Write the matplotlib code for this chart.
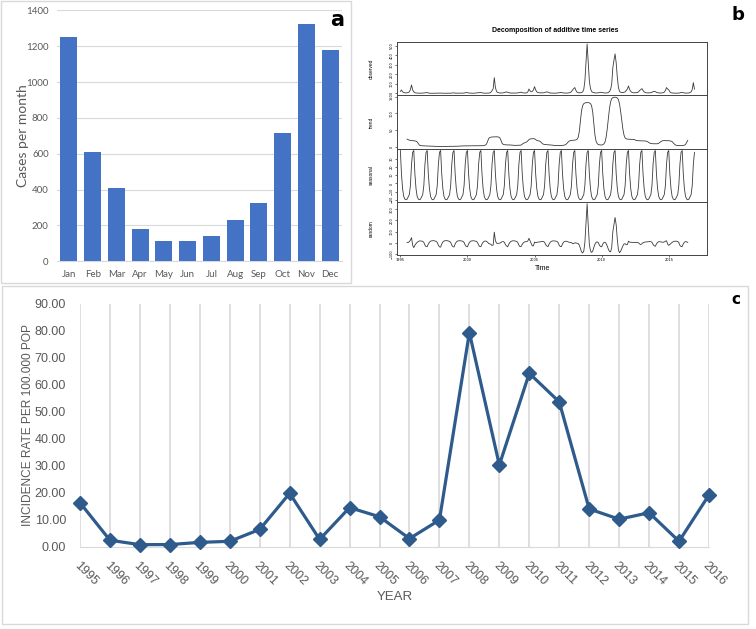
import numpy as np
import matplotlib
matplotlib.use("Agg")
import matplotlib.pyplot as plt
from matplotlib.patches import Rectangle

# ---- panel a: cases per calendar month ----
months = ['Jan', 'Feb', 'Mar', 'Apr', 'May', 'Jun',
          'Jul', 'Aug', 'Sep', 'Oct', 'Nov', 'Dec']
cases_per_month = [1253, 608, 411, 182, 115, 112, 139, 229, 323, 714, 1322, 1181]

# ---- panel c: yearly incidence ----
years = list(range(1995, 2017))
incidence = [16.3, 2.4, 0.75, 0.8, 1.6, 2.0, 6.4, 19.8, 2.7, 14.5, 11.1,
             3.0, 9.9, 79.4, 30.3, 64.3, 53.7, 14.0, 10.2, 12.6, 2.0, 19.2]

# ---- panel b: monthly observed cases, Jan..Dec per row ----
start_year = 1995
observed_monthly = [
    20, 35, 15, 8, 5, 4, 5, 8, 15, 40, 88, 35,         # 1995
    15, 6, 3, 2, 1, 1, 1, 1, 2, 3, 5, 6,               # 1996
    8, 3, 1, 0, 0, 0, 0, 0, 0, 1, 2, 2,                # 1997
    2, 1, 1, 0, 0, 0, 0, 0, 0, 1, 3, 4,                # 1998
    4, 2, 1, 1, 0, 0, 1, 1, 1, 2, 6, 8,                # 1999
    7, 3, 2, 1, 1, 0, 1, 1, 2, 3, 6, 8,                # 2000
    8, 4, 2, 1, 1, 1, 1, 2, 4, 12, 28, 48,             # 2001
    165, 60, 20, 8, 5, 3, 3, 3, 4, 8, 12, 14,          # 2002
    10, 5, 3, 2, 2, 2, 2, 2, 3, 4, 6, 8,               # 2003
    12, 6, 4, 3, 3, 4, 15, 45, 25, 15, 20, 35,         # 2004
    70, 35, 15, 8, 5, 4, 4, 4, 5, 8, 12, 15,           # 2005
    12, 6, 3, 2, 2, 1, 1, 2, 2, 4, 6, 8,               # 2006
    10, 5, 3, 2, 2, 2, 3, 5, 8, 18, 35, 50,            # 2007
    60, 30, 12, 6, 5, 5, 8, 15, 40, 130, 330, 520,     # 2008
    330, 130, 50, 20, 10, 8, 3, 3, 4, 5, 8, 10,        # 2009
    10, 6, 4, 3, 3, 4, 8, 20, 40, 100, 270, 350,       # 2010
    415, 320, 170, 60, 20, 10, 8, 8, 10, 15, 30, 45,   # 2011
    77, 40, 20, 10, 6, 5, 5, 6, 8, 15, 30, 40,         # 2012
    49, 30, 15, 8, 5, 4, 4, 5, 6, 10, 18, 20,          # 2013
    18, 10, 6, 4, 3, 3, 4, 6, 12, 30, 60, 45,          # 2014
    35, 15, 6, 3, 2, 1, 1, 1, 1, 2, 4, 8,              # 2015
    10, 6, 3, 2, 2, 2, 3, 8, 15, 40, 112, 45,          # 2016
]

# classical additive decomposition (as R's decompose)
obs = np.array(observed_monthly, dtype=float)
t = start_year + np.arange(len(obs)) / 12
w = np.r_[0.5, np.ones(11), 0.5] / 12
trend = np.full_like(obs, np.nan)
trend[6:-6] = np.convolve(obs, w, mode='valid')
detr = obs - trend
fig_m = np.array([np.nanmean(detr[m::12]) for m in range(12)])
fig_m -= fig_m.mean()
seasonal = np.tile(fig_m, len(obs) // 12)
random_part = obs - trend - seasonal

W, H = 756, 629
fig = plt.figure(figsize=(W / 100, H / 100), dpi=100)


def fx(px):
    return px / W


def fy(py):
    return 1 - py / H


grey_txt = '#595959'

# frames around panels a and c
fig.patches.append(Rectangle((fx(1), fy(283)), fx(350), 282 / H, transform=fig.transFigure,
                             fill=False, ec='#d9d9d9', lw=1))
fig.patches.append(Rectangle((fx(2), fy(624)), fx(746), 338 / H, transform=fig.transFigure,
                             fill=False, ec='#d9d9d9', lw=1))

# ---------- panel a ----------
axa = fig.add_axes([fx(57), fy(261.3), fx(285), (261.3 - 10.3) / H])
axa.bar(range(12), cases_per_month, width=0.72, color='#4472C4', zorder=3)
axa.set_xlim(-0.5, 11.5)
axa.set_ylim(0, 1400)
axa.set_yticks(range(0, 1401, 200))
axa.set_xticks(range(12))
axa.set_xticklabels(months)
axa.grid(axis='y', color='#d9d9d9', lw=0.8, zorder=0)
for s in ['top', 'right', 'left']:
    axa.spines[s].set_visible(False)
axa.spines['bottom'].set_color('#d9d9d9')
axa.tick_params(length=0, labelsize=7, colors=grey_txt, pad=6)
for lab in axa.get_xticklabels() + axa.get_yticklabels():
    lab.set_family('Lato')
axa.set_ylabel('Cases per month', fontsize=10, color=grey_txt, family='Lato')
axa.yaxis.set_label_coords((29 - 57) / 285, 0.5)
fig.text(fx(337), fy(20), 'a', fontsize=15, fontweight='bold', ha='center', va='center')

# ---------- panel b ----------
names = ['observed', 'trend', 'seasonal', 'random']
comps = [obs, trend, seasonal, random_part]
ticks_b = [range(0, 501, 100), range(0, 151, 50), range(-20, 31, 10), range(-100, 301, 100)]
top_b, bot_b = fy(42), fy(255)
hb = (top_b - bot_b) / 4
for i, (nm, s, tk) in enumerate(zip(names, comps, ticks_b)):
    ax = fig.add_axes([fx(397), top_b - (i + 1) * hb, fx(310), hb])
    ax.plot(t, s, color='#3a3a3a', lw=0.6)
    ax.set_xlim(1994.75, 2017.85)
    lo, hi = np.nanmin(s), np.nanmax(s)
    pad = 0.04 * (hi - lo)
    ax.set_ylim(lo - pad, hi + pad)
    ax.set_yticks(list(tk))
    ax.tick_params(axis='y', labelsize=2.5, length=1.5, width=0.4, pad=1, labelrotation=90)
    for lab in ax.get_yticklabels():
        lab.set_va('center')
    ax.set_ylabel(nm, fontsize=3.5, family='Liberation Sans')
    ax.yaxis.set_label_coords(-23 / 310, 0.5)
    for sp in ax.spines.values():
        sp.set_linewidth(0.7)
        sp.set_color('#444444')
    if i < 3:
        ax.set_xticks([])
    else:
        ax.set_xticks(range(1995, 2016, 5))
        ax.tick_params(axis='x', labelsize=2.5, length=1.5, width=0.4, pad=1)
fig.text(fx(555), fy(30), 'Decomposition of additive time series', fontsize=5,
         fontweight='bold', ha='center', va='center', family='Liberation Sans')
fig.text(fx(543), fy(268), 'Time', fontsize=5, ha='center', va='center', family='Liberation Sans')
fig.text(fx(738), fy(15), 'b', fontsize=13, fontweight='bold', ha='center', va='center')

# ---------- panel c ----------
axc = fig.add_axes([fx(80), fy(546.7), fx(629), (546.7 - 304) / H])
axc.plot(years, incidence, color='#2E5B8C', lw=2.3, marker='D', ms=7, zorder=3, clip_on=False)
axc.set_xlim(1995, 2016)
axc.set_ylim(0, 90)
axc.set_yticks(range(0, 91, 10))
axc.set_yticklabels(['%.2f' % v for v in range(0, 91, 10)])
axc.set_xticks(years)
axc.set_xticklabels([str(y) for y in years], rotation=-45, ha='left', va='top',
                    rotation_mode='anchor')
axc.grid(axis='x', color='#d9d9d9', lw=1.2, zorder=0)
for s in ['top', 'right', 'left']:
    axc.spines[s].set_visible(False)
axc.spines['bottom'].set_color('#d9d9d9')
axc.tick_params(length=0, labelsize=9, colors=grey_txt)
axc.tick_params(axis='y', pad=10)
axc.tick_params(axis='x', pad=9)
fam_c = 'Liberation Sans'
for lab in axc.get_xticklabels() + axc.get_yticklabels():
    lab.set_family(fam_c)
axc.set_ylabel('INCIDENCE RATE PER 100.000 POP', fontsize=8.6, color=grey_txt, family=fam_c)
axc.yaxis.set_label_coords((34 - 80) / 629, 0.5)
axc.set_xlabel('YEAR', fontsize=9.5, color=grey_txt, family=fam_c)
axc.xaxis.set_label_coords(0.5, -(591 - 546.7) / 242.7)
fig.text(fx(736), fy(299), 'c', fontsize=11, fontweight='bold', ha='center', va='center')

fig.savefig('out.png', dpi=100)
